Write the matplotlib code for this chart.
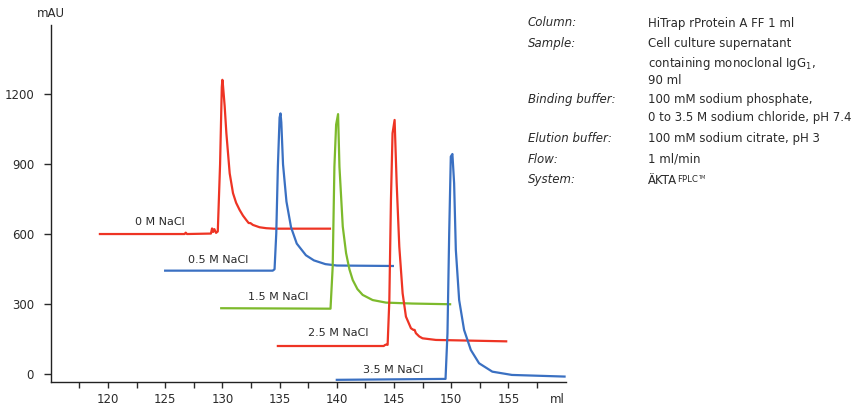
import matplotlib
matplotlib.use("Agg")
import matplotlib.pyplot as plt

plt.rcParams['font.family'] = ['DejaVu Sans']
plt.rcParams['mathtext.fontset'] = 'dejavusans'

# Chromatogram traces (elution volume in ml, absorbance in mAU), one per NaCl level
nacl_labels = ["0 M NaCl", "0.5 M NaCl", "1.5 M NaCl", "2.5 M NaCl", "3.5 M NaCl"]

ml_0 = [119.3, 126.7, 126.8, 126.9, 129.0, 129.1, 129.2, 129.3, 129.45, 129.6,
        129.8, 129.95, 130.0, 130.05, 130.2, 130.35, 130.64, 130.93, 131.2, 131.51,
        131.8, 132.09, 132.3, 132.45, 132.67, 133.25, 133.83, 134.5, 139.4]
mau_0 = [601, 601, 607, 601, 603, 625, 610, 622, 606, 612,
         900, 1230, 1262, 1240, 1150, 1033, 861, 776, 735, 704,
         680, 661, 648, 648, 640, 630, 626, 624, 624]

ml_05 = [125.0, 134.4, 134.56, 134.71, 134.85, 135.0, 135.08, 135.15, 135.3, 135.6,
         136.0, 136.5, 137.3, 138.0, 139.0, 140.0, 144.9]
mau_05 = [444, 444, 450, 604, 890, 1100, 1118, 1080, 900, 740,
          630, 560, 510, 488, 472, 466, 464]

ml_15 = [129.9, 139.45, 139.64, 139.79, 139.94, 140.11, 140.23, 140.52, 140.81, 141.1,
         141.39, 141.8, 142.26, 143.13, 144.3, 146.62, 149.9]
mau_15 = [283, 281, 461, 890, 1070, 1115, 890, 633, 519, 450,
          404, 365, 340, 318, 307, 303, 300]

ml_25 = [134.85, 144.1, 144.2, 144.3, 144.44, 144.59, 144.73, 144.87, 145.05, 145.23,
         145.46, 145.75, 146.04, 146.48, 146.7, 146.8, 146.91, 147.2, 147.49, 148.66, 154.8]
mau_25 = [121, 121, 125, 127, 126, 318, 747, 1033, 1090, 819,
          547, 347, 247, 197, 190, 190, 176, 162, 154, 147, 141]

ml_35 = [140.0, 149.5, 149.67, 149.82, 149.96, 150.1, 150.25, 150.4, 150.69, 151.12,
         151.71, 152.43, 153.59, 155.3, 159.9]
mau_35 = [-24, -20, 176, 604, 933, 944, 819, 533, 318, 190,
          104, 47, 11, -3, -10]

trace_colors = ["#EE3424", "#3A70C2", "#7DBA2C", "#EE3424", "#3A70C2"]

# Label anchor points (ml, mAU) for each trace name
label_ml = [124.5, 129.6, 134.9, 140.1, 144.9]
label_mau = [654, 490, 333, 176, 18]

y_ticks = [0, 300, 600, 900, 1200]
x_major = [120, 125, 130, 135, 140, 145, 150, 155]
x_major_labels = ["120", "125", "130", "135", "140", "145", "150", "155"]
x_minor = [117.5, 122.5, 127.5, 132.5, 137.5, 142.5, 147.5, 152.5, 157.5]
x_unit_pos = 159.3

info_keys = ["Column:", "Sample:", "", "", "Binding buffer:", "",
             "Elution buffer:", "Flow:", "System:"]
info_values = ["HiTrap rProtein A FF 1 ml",
               "Cell culture supernatant",
               "containing monoclonal IgG$_1$,",
               "90 ml",
               "100 mM sodium phosphate,",
               "0 to 3.5 M sodium chloride, pH 7.4",
               "100 mM sodium citrate, pH 3",
               "1 ml/min",
               "ÄKTA"]

TXT = '#2a2a2a'
W, H = 862, 405
fig = plt.figure(figsize=(W / 100, H / 100), dpi=100)
ax = fig.add_axes([50.7 / W, 1 - 381.7 / H, 515 / W, 356.7 / H])

traces = [(ml_0, mau_0), (ml_05, mau_05), (ml_15, mau_15), (ml_25, mau_25), (ml_35, mau_35)]
for (xs, ys), c in zip(traces, trace_colors):
    ax.plot(xs, ys, color=c, lw=1.6, solid_joinstyle='round')

for name, lx, ly in zip(nacl_labels, label_ml, label_mau):
    ax.text(lx, ly, name, ha='center', va='center', fontsize=8, color=TXT)

ax.set_xlim(115, 160)
ax.set_ylim(-32, 1497)
ax.spines['top'].set_visible(False)
ax.spines['right'].set_visible(False)
for s in ('left', 'bottom'):
    ax.spines[s].set_linewidth(1.0)
    ax.spines[s].set_color('#222222')

ax.set_yticks(y_ticks)
# The unit "ml" sits in the tick-label row at the end of the axis, without a tick mark
ax.set_xticks(x_major + [x_unit_pos], x_major_labels + ["ml"])
ax.set_xticks(x_minor, minor=True)
ax.tick_params(axis='y', length=5, width=1, pad=7, labelsize=8.5, colors=TXT)
ax.tick_params(axis='x', which='both', length=4, width=1, pad=4, labelsize=8.5, colors=TXT)
ax.xaxis.get_major_ticks()[-1].tick1line.set_visible(False)

ax.annotate("mAU", xy=(0, 1), xycoords='axes fraction', xytext=(0, 8), textcoords='offset points',
            ha='center', va='center', fontsize=8.5, color=TXT)

# Run conditions
row_y = [23, 44, 63, 81, 99.5, 118, 138.5, 159.5, 180]
for key, val, ry in zip(info_keys, info_values, row_y):
    if key:
        fig.text(528 / W, 1 - ry / H, key, ha='left', va='center', fontsize=8.5,
                 style='italic', color=TXT)
    t = fig.text(648 / W, 1 - ry / H, val, ha='left', va='center', fontsize=8.5, color=TXT)

# Trademark suffix follows the last value in smaller type
fig.canvas.draw()
bb = t.get_window_extent()
t2 = fig.text(bb.x1 / W + 0.5 / W, 1 - 180 / H, "FPLC", ha='left', va='center', fontsize=6.2,
              color=TXT)
fig.canvas.draw()
bb2 = t2.get_window_extent()
fig.text(bb2.x1 / W, 1 - 177 / H, "TM", ha='left', va='center', fontsize=3.6, color=TXT)

fig.savefig("out.png", dpi=100)
